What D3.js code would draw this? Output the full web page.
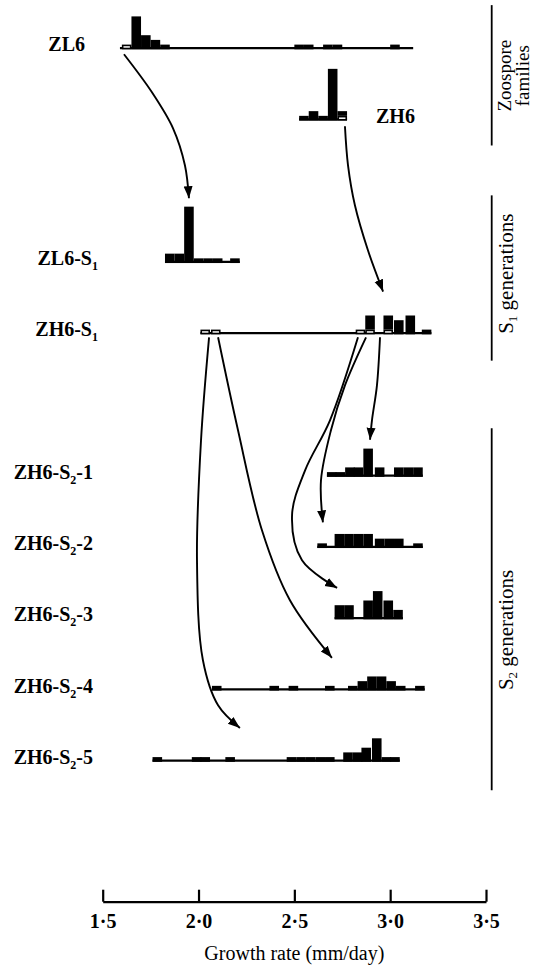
<!DOCTYPE html>
<html><head><meta charset="utf-8">
<script src="https://cdn.jsdelivr.net/npm/d3@7"></script>
<style>body{margin:0;background:#fff}svg{display:block}</style>
</head><body>
<svg id="c" width="539" height="967"></svg>
<script>
// ---- data ----
const rowNames = ["ZL6","ZH6","ZL6-S1","ZH6-S1","ZH6-S2-1","ZH6-S2-2","ZH6-S2-3","ZH6-S2-4","ZH6-S2-5"];
const rowSlots = [0,1,3,4,6,7,8,9,10];
const binWidth = 0.05;
// each bin: [bin start (mm/day), black count, open (selected) count]
const binsZL6   = [[1.60,0,1],[1.65,7,0],[1.70,3,0],[1.75,2,0],[1.80,1,0],[2.50,1,0],[2.55,1,0],[2.65,1,0],[2.70,1,0],[3.00,1,0]];
const binsZH6   = [[2.525,1,0],[2.575,2,0],[2.625,1,0],[2.675,11,0],[2.725,1,1]];
const binsZL6S1 = [[1.825,2,0],[1.875,2,0],[1.925,12,0],[1.975,1,0],[2.025,1,0],[2.075,1,0],[2.165,1,0]];
const binsZH6S1 = [[2.01,0,1],[2.065,0,1],[2.82,0,1],[2.87,3,1],[2.965,3,1],[3.02,3,0],[3.08,4,0],[3.165,1,0]];
const binsS21   = [[2.67,1,0],[2.715,1,0],[2.765,2,0],[2.81,2,0],[2.86,6,0],[2.92,2,0],[3.02,2,0],[3.07,2,0],[3.12,2,0]];
const binsS22   = [[2.62,1,0],[2.71,3,0],[2.76,3,0],[2.81,3,0],[2.86,3,0],[2.92,2,0],[2.97,2,0],[3.02,2,0],[3.12,1,0]];
const binsS23   = [[2.71,3,0],[2.76,3,0],[2.86,4,0],[2.91,6,0],[2.965,4,0],[3.016,2,0]];
const binsS24   = [[2.07,1,0],[2.37,1,0],[2.47,1,0],[2.66,1,0],[2.78,1,0],[2.83,2,0],[2.88,3,0],[2.93,3,0],[2.98,2,0],[3.03,1,0],[3.13,1,0]];
const binsS25   = [[1.76,1,0],[1.965,1,0],[2.01,1,0],[2.14,1,0],[2.46,1,0],[2.51,1,0],[2.56,1,0],[2.61,1,0],[2.66,1,0],[2.755,2,0],[2.805,2,0],[2.85,3,0],[2.905,5,0],[2.955,1,0],[3.00,1,0]];
const rowBins = [binsZL6,binsZH6,binsZL6S1,binsZH6S1,binsS21,binsS22,binsS23,binsS24,binsS25];
// extent of each distribution's base line
const lineSpans = [[1.59,3.12],[2.525,2.775],[1.825,2.215],[2.01,3.215],[2.67,3.17],[2.62,3.17],[2.71,3.066],[2.07,3.18],[1.76,3.05]];
// label: [text before subscript, subscript, text after]
const labelParts = [["ZL6","",""],["ZH6","",""],["ZL6-S","1",""],["ZH6-S","1",""],["ZH6-S","2","-1"],["ZH6-S","2","-2"],["ZH6-S","2","-3"],["ZH6-S","2","-4"],["ZH6-S","2","-5"]];
const tickValues = [1.5,2.0,2.5,3.0,3.5];
const tickLabels = ["1·5","2·0","2·5","3·0","3·5"];
const axisTitle = "Growth rate (mm/day)";
// group brackets on the right: slot range of the line, slot of the text centre, text lines
const groups = [
  {from:-0.62, to:1.35, mid:0.37, lines:[["Zoospore",""],["families",""]]},
  {from:2.05, to:4.37, mid:3.15, lines:[["S","1"," generations"]]},
  {from:5.32, to:10.4, mid:8.15, lines:[["S","2"," generations"]]}
];
// arrows: waypoints in (growth rate, row slot) units; last point is the tip
const arrows = [
  [[1.611,0.07],[1.757,0.604],[1.867,1.109],[1.929,1.628],[1.950,2.09]],
  [[2.764,1.081],[2.780,1.628],[2.816,2.189],[2.884,2.821],[2.963,3.40]],
  [[2.947,4.042],[2.931,4.716],[2.905,5.207],[2.895,5.48]],
  [[2.874,4.042],[2.764,4.716],[2.691,5.347],[2.639,6.049],[2.649,6.64]],
  [[2.832,4.042],[2.686,5.207],[2.556,5.909],[2.488,6.540],[2.540,7.172],[2.723,7.56]],
  [[2.102,4.042],[2.206,5.347],[2.331,6.751],[2.477,7.733],[2.696,8.54]],
  [[2.055,4.042],[2.013,5.488],[1.992,7.172],[2.023,8.575],[2.102,9.207],[2.216,9.525]]
];

// ---- scales ----
const svg = d3.select("#c");
const x = d3.scaleLinear().domain([1.5,3.5]).range([102.7,486]);
const y = d3.scaleLinear().domain([0,10]).range([49.3,761.8]);
const h = d3.scaleLinear().domain([0,1]).range([0,4.7]);
const serif = "'Liberation Serif','Times New Roman',serif";

// ---- rows ----
rowNames.forEach((name,i)=>{
  const g = svg.append("g").attr("transform",`translate(0,${y(rowSlots[i])})`);
  const sp = lineSpans[i];
  g.append("line").attr("x1",x(sp[0])).attr("x2",x(sp[1])).attr("y1",-1.2).attr("y2",-1.2)
    .attr("stroke","#000").attr("stroke-width",2.4);
  const bins = rowBins[i];
  g.selectAll("rect.b").data(bins.filter(d=>d[1]>0)).join("rect").attr("class","b")
    .attr("x",d=>x(d[0])).attr("width",d=>x(d[0]+binWidth)-x(d[0]))
    .attr("y",d=>-h(d[1]+d[2])).attr("height",d=>h(d[1])).attr("fill","#000");
  g.selectAll("rect.w").data(bins.filter(d=>d[2]>0)).join("rect").attr("class","w")
    .attr("x",d=>x(d[0])+0.8).attr("width",d=>x(d[0]+binWidth)-x(d[0])-1.6)
    .attr("y",d=>-h(d[2])+0.8).attr("height",d=>h(d[2])-1.6)
    .attr("fill","#fff").attr("stroke","#000").attr("stroke-width",1.6);
});

// ---- row labels ----
const labelX = [85,376,98,98,93,93,93,93,93];
const labelAnchor = ["end","start","end","end","end","end","end","end","end"];
labelParts.forEach((p,i)=>{
  const t = svg.append("text").attr("x",labelX[i]).attr("y",y(rowSlots[i])+2)
    .attr("text-anchor",labelAnchor[i]).attr("font-family",serif).attr("font-size",20)
    .attr("font-weight","bold").attr("fill","#000");
  t.append("tspan").text(p[0]);
  if(p[1]){
    t.append("tspan").attr("font-size",12).attr("dy",5).text(p[1]);
    if(p[2]) t.append("tspan").attr("dy",-5).text(p[2]);
  }
});

// ---- arrows ----
svg.append("defs").append("marker").attr("id","ah").attr("markerUnits","userSpaceOnUse")
  .attr("viewBox","0 -6 12 12").attr("refX",12).attr("refY",0)
  .attr("markerWidth",12).attr("markerHeight",12).attr("orient","auto")
  .append("path").attr("d","M0,-4.5L12,0L0,4.5Z").attr("fill","#000");
const lineGen = d3.line().x(d=>x(d[0])).y(d=>y(d[1])).curve(d3.curveCatmullRom.alpha(0.5));
svg.selectAll("path.arrow").data(arrows).join("path").attr("class","arrow")
  .attr("d",lineGen).attr("fill","none").attr("stroke","#000").attr("stroke-width",1.9)
  .attr("marker-end","url(#ah)");

// ---- group brackets ----
const bx = 491.7;
groups.forEach(gr=>{
  const y0 = y(gr.from), y1 = y(gr.to);
  svg.append("line").attr("x1",bx).attr("x2",bx).attr("y1",y0).attr("y2",y1)
    .attr("stroke","#000").attr("stroke-width",1.8);
  const cy = y(gr.mid);
  const two = gr.lines.length > 1;
  gr.lines.forEach((ln,k)=>{
    const bxl = two ? 511 + k*18 : 513;
    const t = svg.append("text").attr("transform",`translate(${bxl},${cy}) rotate(-90)`)
      .attr("text-anchor","middle").attr("font-family",serif).attr("font-size",two?19:21).attr("fill","#000");
    t.append("tspan").text(ln[0]);
    if(ln[1]){
      t.append("tspan").attr("font-size",13).attr("dy",4).text(ln[1]);
      t.append("tspan").attr("dy",-4).text(ln[2]);
    }
  });
});

// ---- axis ----
const axis = d3.axisBottom(x).tickValues(tickValues).tickFormat((d,i)=>tickLabels[i])
  .tickSizeInner(-12).tickSizeOuter(0).tickPadding(12);
const ag = svg.append("g").attr("transform","translate(0,901.7)").call(axis);
ag.select(".domain").attr("stroke-width",2.2);
ag.selectAll(".tick line").attr("stroke-width",2.2);
ag.selectAll(".tick text").attr("font-family",serif).attr("font-size",20).attr("font-weight","bold").attr("fill","#000");
svg.append("text").attr("x",(x(1.5)+x(3.5))/2).attr("y",960).attr("text-anchor","middle")
  .attr("font-family",serif).attr("font-size",20).attr("fill","#000").text(axisTitle);
</script>
</body></html>
